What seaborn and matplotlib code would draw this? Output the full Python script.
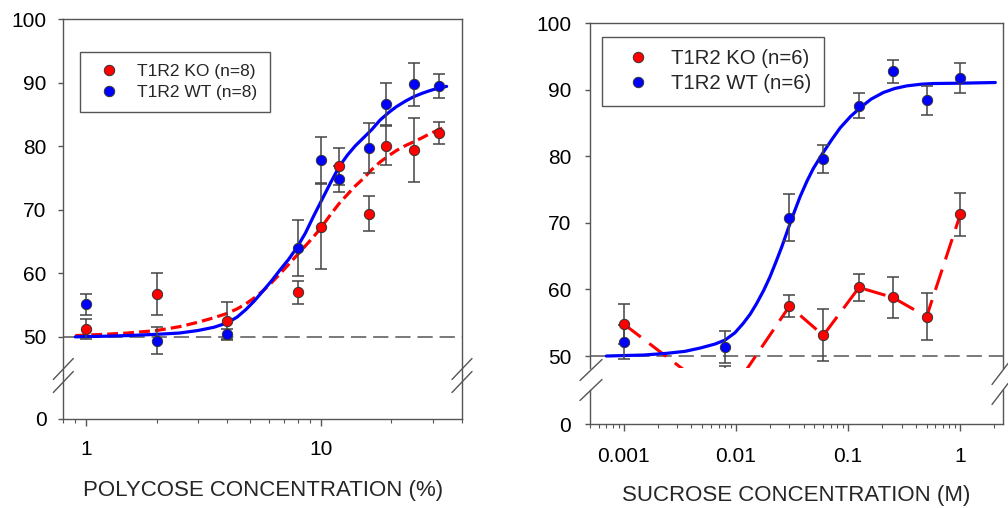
import pandas as pd
import seaborn as sns
import matplotlib.pyplot as plt
from matplotlib.lines import Line2D

# === 1. Data ===
# Polycose panel (mean +/- SEM)
poly_conc = [1, 2, 4, 8, 10, 12, 16, 19, 25, 32]
poly_ko = [51.2, 56.8, 52.5, 57.0, 67.3, 76.8, 69.4, 80.1, 79.4, 82.1]
poly_ko_err = [1.6, 3.3, 3.0, 1.8, 6.7, 2.9, 2.7, 3.0, 5.0, 1.7]
poly_wt = [55.1, 49.4, 50.4, 64.0, 77.8, 74.8, 79.7, 86.6, 89.7, 89.5]
poly_wt_err = [1.7, 2.1, 0.8, 4.4, 3.6, 2.0, 4.0, 3.3, 3.4, 1.9]

# fitted curves
poly_fit_x = [0.9, 1.2, 1.5, 2, 2.5, 3, 3.5, 4, 4.4, 4.8, 5.2, 5.7, 6.2, 6.7,
              7.3, 7.9, 8.6, 9.3, 10, 11, 12, 13, 14, 15.2, 16.5, 17.9, 19.5,
              21, 23, 25, 27, 29, 31.5, 34.4]
poly_ko_fit = [50.2, 50.4, 50.6, 51.0, 51.6, 52.3, 53.0, 53.7, 54.4, 55.2, 56.1,
               57.3, 58.6, 59.9, 61.4, 62.8, 64.3, 65.7, 67.1, 69.2, 71.0, 72.4,
               73.7, 74.9, 76.3, 77.5, 78.5, 79.3, 80.1, 80.7, 81.3, 81.9, 82.5,
               83.1]
poly_wt_fit = [50.0, 50.1, 50.2, 50.4, 50.6, 51.0, 51.5, 52.2, 53.1, 54.3, 55.6,
               57.3, 58.9, 60.5, 62.2, 64.0, 66.3, 68.9, 71.2, 74.2, 76.8, 78.6,
               80.0, 81.3, 82.6, 84.1, 85.3, 86.2, 87.1, 87.8, 88.3, 88.7, 89.1,
               89.4]

# Sucrose panel (mean +/- SEM)
suc_conc = [0.001, 0.008, 0.03, 0.06, 0.125, 0.25, 0.5, 1.0]
suc_ko = [54.8, 43.2, 57.5, 53.1, 60.3, 58.8, 55.9, 71.3]
suc_ko_err = [3.0, 5.3, 1.7, 3.9, 2.0, 3.1, 3.5, 3.2]
suc_wt = [52.1, 51.4, 70.8, 79.6, 87.6, 92.8, 88.4, 91.8]
suc_wt_err = [2.6, 2.4, 3.5, 2.1, 1.9, 1.7, 2.2, 2.3]

suc_fit_x = [0.0007, 0.0015, 0.0024, 0.0035, 0.0048, 0.0065, 0.008, 0.0098,
             0.0116, 0.0134, 0.0153, 0.0177, 0.0201, 0.0228, 0.0256, 0.0303,
             0.0337, 0.0372, 0.043, 0.049, 0.060, 0.072, 0.085, 0.105, 0.128,
             0.16, 0.206, 0.26, 0.334, 0.45, 0.578, 1.0, 2.05]
suc_wt_fit = [50.0, 50.15, 50.4, 50.7, 51.2, 51.8, 52.4, 53.5, 54.9, 56.3, 57.9,
              59.9, 61.9, 64.2, 66.4, 69.9, 72.0, 73.9, 76.3, 78.2, 80.6, 82.6,
              84.3, 86.0, 87.3, 88.6, 89.6, 90.2, 90.6, 90.85, 90.95, 91.0, 91.1]

poly_xticks = [1, 10]
poly_xticklabels = ["1", "10"]
suc_xticks = [0.001, 0.01, 0.1, 1]
suc_xticklabels = ["0.001", "0.01", "0.1", "1"]
y_ticks = [50, 60, 70, 80, 90, 100]

RED = "#ff0000"
BLUE = "#0000ff"
GREY = "#555555"

# === 2. Style ===
sns.set_theme(style="white")
plt.rcParams["font.family"] = ["Liberation Sans", "DejaVu Sans"]
plt.rcParams["axes.edgecolor"] = GREY
plt.rcParams["xtick.color"] = GREY
plt.rcParams["ytick.color"] = GREY
plt.rcParams["xtick.labelcolor"] = "black"
plt.rcParams["ytick.labelcolor"] = "black"

W, H = 1008, 508
fig = plt.figure(figsize=(W / 100, H / 100), dpi=100)
fig.patch.set_facecolor("white")


def px_rect(x0, x1, y0, y1):
    # pixel box (top-left origin) -> figure fraction rect
    return [x0 / W, 1 - y1 / H, (x1 - x0) / W, (y1 - y0) / H]


def draw_points(ax, x, y, err, color):
    ax.errorbar(x, y, yerr=err, fmt="none", ecolor="#444444", elinewidth=1.1,
                capsize=4.5, capthick=1.1, zorder=3)
    sns.scatterplot(x=x, y=y, ax=ax, color=color, s=55, edgecolor="#333333",
                    linewidth=0.7, zorder=4, legend=False)


def style_pair(top, bot, xlim, xticks, xticklabels, ylim_top, ylim_bot, ypad,
               xpad):
    for a in (top, bot):
        a.set_xscale("log")
        a.set_xlim(*xlim)
        a.set_facecolor("white")
        for s in a.spines.values():
            s.set_color(GREY)
            s.set_linewidth(1.0)
    top.set_ylim(*ylim_top)
    bot.set_ylim(*ylim_bot)
    top.spines["bottom"].set_visible(False)
    bot.spines["top"].set_visible(False)
    top.tick_params(axis="x", which="both", bottom=False, labelbottom=False)
    top.set_yticks(y_ticks)
    top.set_yticklabels([str(t) for t in y_ticks])
    bot.set_yticks([0])
    bot.set_yticklabels(["0"])
    for a in (top, bot):
        a.tick_params(axis="y", left=True, length=3.5, width=1, pad=ypad,
                      labelsize=15)
    bot.set_xticks(xticks)
    bot.set_xticklabels(xticklabels)
    bot.xaxis.set_minor_formatter(plt.NullFormatter())
    bot.tick_params(axis="x", which="major", bottom=True, length=5, width=1,
                    pad=xpad, labelsize=15)
    bot.tick_params(axis="x", which="minor", bottom=True, length=3, width=0.8)
    for a in (top, bot):
        a.axhline(50, color=GREY, lw=1.1, dashes=(10, 4.5), zorder=1)
        a.set_xlabel("")
        a.set_ylabel("")


def add_break(x_spine, y_a, y_b, half_w):
    for yc in (y_a, y_b):
        fig.add_artist(Line2D([(x_spine - half_w) / W, (x_spine + half_w) / W],
                              [1 - (yc + 10.5) / H, 1 - (yc - 10.5) / H],
                              transform=fig.transFigure, color=GREY, lw=1.0))


# === 3. Polycose panel ===
ax1 = fig.add_axes(px_rect(63.3, 462, 19, 375))
ax1b = fig.add_axes(px_rect(63.3, 462, 375, 419), sharex=ax1)
style_pair(ax1, ax1b, (0.8, 40), poly_xticks, poly_xticklabels,
           (44.0, 100), (0, 6.9), 8.5, 10)
for a in (ax1, ax1b):
    sns.lineplot(x=poly_fit_x, y=poly_ko_fit, ax=a, color=RED, lw=2.3,
                 linestyle=(0, (3.4, 1.6)), sort=False, estimator=None, zorder=2)
    sns.lineplot(x=poly_fit_x, y=poly_wt_fit, ax=a, color=BLUE, lw=2.3,
                 sort=False, estimator=None, zorder=2)
    draw_points(a, poly_conc, poly_ko, poly_ko_err, RED)
    draw_points(a, poly_conc, poly_wt, poly_wt_err, BLUE)
ax1b.set_xlabel("POLYCOSE CONCENTRATION (%)", fontsize=16, labelpad=15)
add_break(63.3, 369, 382, 10)
add_break(462, 369, 382, 10)

# === 4. Sucrose panel ===
ax2 = fig.add_axes(px_rect(590, 1003, 23.3, 368))
ax2b = fig.add_axes(px_rect(590, 1003, 390, 424), sharex=ax2)
style_pair(ax2, ax2b, (0.0005, 2.4), suc_xticks, suc_xticklabels,
           (48.2, 100), (0, 5.1), 10, 11.5)
for a in (ax2, ax2b):
    sns.lineplot(x=suc_conc, y=suc_ko, ax=a, color=RED, lw=2.2,
                 linestyle=(0, (7, 3.5)), sort=False, estimator=None, zorder=2)
    sns.lineplot(x=suc_fit_x, y=suc_wt_fit, ax=a, color=BLUE, lw=2.3,
                 sort=False, estimator=None, zorder=2)
    draw_points(a, suc_conc, suc_ko, suc_ko_err, RED)
    draw_points(a, suc_conc, suc_wt, suc_wt_err, BLUE)
ax2b.set_xlabel("SUCROSE CONCENTRATION (M)", fontsize=16, labelpad=14)
add_break(591, 370, 390, 11)
add_break(1000, 374, 394, 8)


# === 5. Legends ===
def handles(color):
    return Line2D([], [], marker="o", ls="", markersize=7.5,
                  markerfacecolor=color, markeredgecolor="#333333",
                  markeredgewidth=0.7)


ax1.legend([handles(RED), handles(BLUE)], ["T1R2 KO (n=8)", "T1R2 WT (n=8)"],
           loc="upper left", bbox_to_anchor=(80 / W, 1 - 52 / H),
           bbox_transform=fig.transFigure, fontsize=12.5, frameon=True,
           fancybox=False, edgecolor=GREY, framealpha=1, borderpad=0.7,
           borderaxespad=0, handlelength=1.9, handletextpad=0.7,
           labelspacing=0.3)
ax2.legend([handles(RED), handles(BLUE)], ["T1R2 KO (n=6)", "T1R2 WT (n=6)"],
           loc="upper left", bbox_to_anchor=(602 / W, 1 - 37 / H),
           bbox_transform=fig.transFigure, fontsize=14.7, frameon=True,
           fancybox=False, edgecolor=GREY, framealpha=1, borderpad=0.6,
           borderaxespad=0, handlelength=2.3, handletextpad=0.5,
           labelspacing=0.3)

plt.savefig("out.png", dpi=100, facecolor="white")
print("Saved: out.png")
